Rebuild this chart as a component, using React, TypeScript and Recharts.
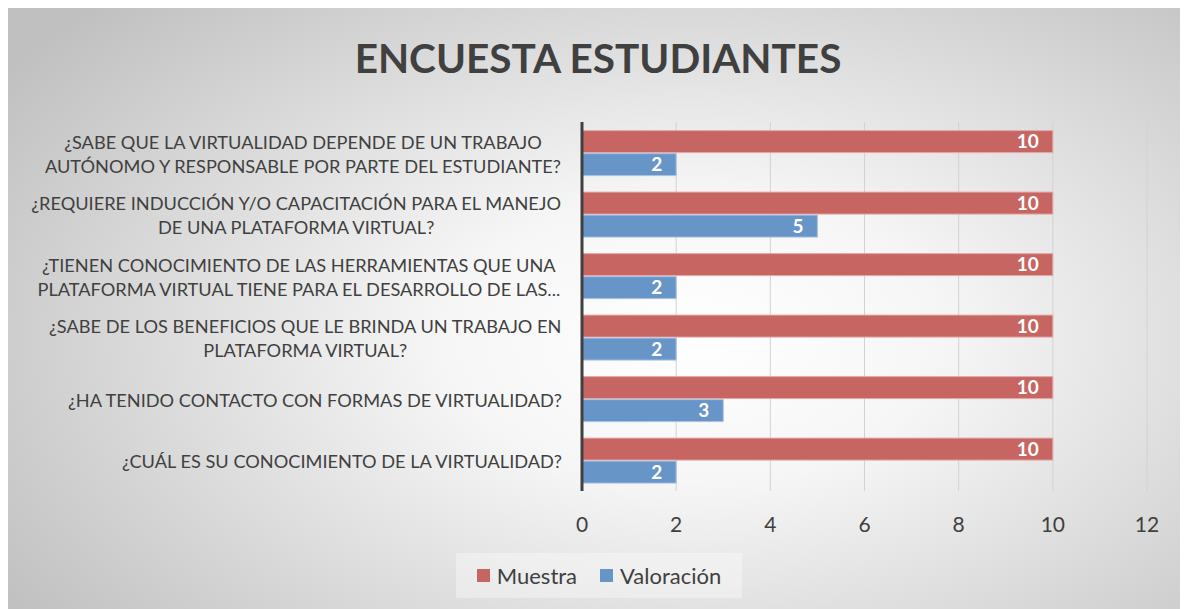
import React from "react";
import {
  BarChart, Bar, XAxis, YAxis, CartesianGrid, LabelList,
} from "recharts";

const categories = [
  "¿SABE QUE LA VIRTUALIDAD DEPENDE DE UN TRABAJO\nAUTÓNOMO Y RESPONSABLE POR PARTE DEL ESTUDIANTE?",
  "¿REQUIERE INDUCCIÓN Y/O CAPACITACIÓN PARA EL MANEJO\nDE UNA PLATAFORMA VIRTUAL?",
  "¿TIENEN CONOCIMIENTO DE LAS HERRAMIENTAS QUE UNA\nPLATAFORMA VIRTUAL TIENE PARA EL DESARROLLO DE LAS...",
  "¿SABE DE LOS BENEFICIOS QUE LE BRINDA UN TRABAJO EN\nPLATAFORMA VIRTUAL?",
  "¿HA TENIDO CONTACTO CON FORMAS DE VIRTUALIDAD?",
  "¿CUÁL ES SU CONOCIMIENTO DE LA VIRTUALIDAD?",
];
const muestra = [10, 10, 10, 10, 10, 10];
const valoracion = [2, 5, 2, 2, 3, 2];
const xTicks = [0, 2, 4, 6, 8, 10, 12];

const FONT = "Lato, 'Open Sans', sans-serif";
const TEXT = "#404040";
const RED = "#c76562";
const BLUE = "#6895c8";

const data = categories.map((name, i) => ({
  name,
  Muestra: muestra[i],
  "Valoración": valoracion[i],
}));

let ctx: CanvasRenderingContext2D | null = null;
function textWidth(s: string, font: string) {
  if (!ctx) ctx = document.createElement("canvas").getContext("2d");
  if (!ctx) return s.length * 8;
  ctx.font = font;
  return ctx.measureText(s).width;
}

// multi-line labels: block right-aligned, lines centred inside it (like Excel)
function QuestionTick(props: any) {
  const { x, y, payload } = props;
  const lines = String(payload.value).split("\n");
  const size = 18.2;
  const lh = 24;
  const right = x - 12;
  const widths = lines.map((l) => textWidth(l, `${size}px Lato`));
  const maxW = Math.max(...widths);
  const top = y + 1 - ((lines.length - 1) * lh) / 2;
  const single = lines.length === 1;
  return (
    <text
      fill={TEXT}
      fontSize={size}
      fontFamily={FONT}
      textAnchor={single ? "end" : "middle"}
      dominantBaseline="central"
    >
      {lines.map((l, i) => (
        <tspan key={i} x={single ? right : right - maxW / 2} y={top + i * lh}>{l}</tspan>
      ))}
    </text>
  );
}

function LegendBox() {
  const items = [
    { label: "Muestra", color: RED },
    { label: "Valoración", color: BLUE },
  ];
  return (
    <div style={{
      position: "absolute", left: 448, top: 545, width: 286, height: 45,
      display: "flex", alignItems: "center", justifyContent: "center", gap: 23,
      background: "rgba(255,255,255,0.35)", fontFamily: FONT, fontSize: 22, color: TEXT,
    }}>
      {items.map((it) => (
        <div key={it.label} style={{ display: "flex", alignItems: "center", gap: 7 }}>
          <span style={{ width: 13, height: 13, background: it.color, display: "inline-block" }} />
          <span>{it.label}</span>
        </div>
      ))}
    </div>
  );
}

export default function App() {
  return (
    <div style={{
      position: "relative", width: 1180, height: 601,
      background: "radial-gradient(ellipse 70% 80% at 58% 55%, #ffffff 0%, #f6f6f6 30%, #c0c0c0 100%)",
    }}>
      <div style={{
        position: "absolute", top: 25, left: 0, width: 1180, textAlign: "center",
        fontFamily: FONT, fontWeight: 700, fontSize: 40.5, color: TEXT,
      }}>
        ENCUESTA ESTUDIANTES
      </div>
      <BarChart
        width={1180}
        height={601}
        data={data}
        layout="vertical"
        margin={{ top: 114, right: 41, bottom: 0, left: 0 }}
        barCategoryGap="14%"
        barGap={1}
        style={{ position: "absolute", top: 0, left: 0 }}
      >
        <CartesianGrid horizontal={false} stroke="#d2d2d2" />
        <XAxis
          type="number"
          domain={[0, 12]}
          ticks={xTicks}
          axisLine={false}
          tickLine={false}
          tickMargin={20}
          height={118}
          tick={{ fill: TEXT, fontSize: 21, fontFamily: FONT }}
        />
        <YAxis
          type="category"
          dataKey="name"
          width={574}
          axisLine={{ stroke: TEXT, strokeWidth: 3 }}
          tickLine={false}
          tick={<QuestionTick />}
        />
        <Bar dataKey="Muestra" fill={RED} stroke="#e2a9a7" strokeWidth={1} isAnimationActive={false}>
          <LabelList dataKey="Muestra" position="insideRight" offset={14} fill="#ffffff" fontWeight={700} fontSize={19} fontFamily={FONT} />
        </Bar>
        <Bar dataKey="Valoración" fill={BLUE} stroke="#a9c3e2" strokeWidth={1} isAnimationActive={false}>
          <LabelList dataKey="Valoración" position="insideRight" offset={14} fill="#ffffff" fontWeight={700} fontSize={19} fontFamily={FONT} />
        </Bar>
      </BarChart>
      <LegendBox />
    </div>
  );
}
